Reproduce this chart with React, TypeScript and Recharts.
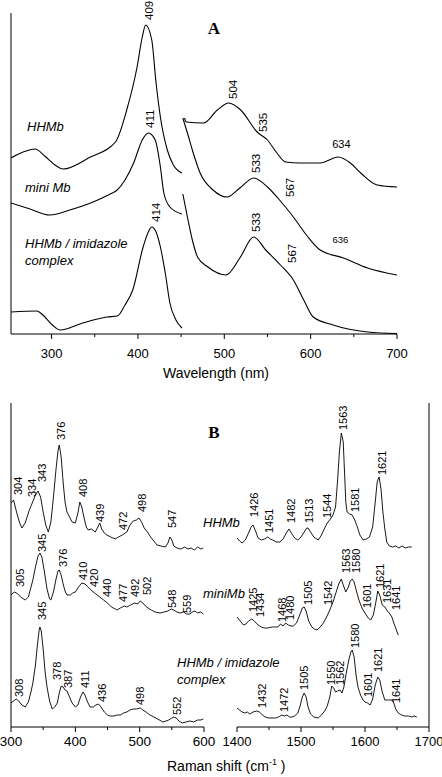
import React from "react";
import { LineChart, Line, XAxis, YAxis, ReferenceDot, ReferenceLine } from "recharts";

const SANS = '"Liberation Sans", Arial, Helvetica, sans-serif';
const SERIF = '"Liberation Serif", "Times New Roman", serif';

// Panel A: absorption spectra, [wavelength nm, offset height]
const hhmbUvLeft = [[253, 176], [267, 182], [281, 185], [292, 178], [304, 169], [313, 165], [345, 177], [374, 192], [387, 224], [399, 267], [405, 297], [409, 309], [416, 294], [421, 251], [426, 217], [434, 184], [441, 169], [451, 161]];
const hhmbUvRight = [[454, 216], [456, 212], [476, 211], [492, 224], [505, 231], [519, 224], [538, 202], [550, 194], [561, 181], [571, 172], [588, 171], [611, 171], [632, 177], [646, 171], [658, 161], [677, 149], [700, 147]];
const miniUvLeft = [[253, 131], [275, 125], [298, 119], [321, 124], [348, 132], [368, 140], [376, 144], [385, 154], [395, 171], [405, 194], [412, 201], [420, 194], [426, 167], [430, 141], [437, 127], [451, 120]];
const miniUvRight = [[452, 216], [458, 199], [463, 184], [472, 161], [487, 144], [503, 137], [518, 146], [534, 156], [550, 147], [563, 135], [580, 117], [596, 98], [611, 84], [638, 76], [666, 66], [700, 59]];
const imidUvLeft = [[253, 22], [283, 23], [290, 19], [301, 9], [310, 4], [336, 11], [364, 17], [376, 18], [385, 29], [394, 44], [406, 87], [412, 102], [416, 107], [421, 102], [426, 87], [432, 59], [437, 31], [444, 14], [451, 6]];
const imidUvRight = [[452, 140], [458, 114], [463, 94], [469, 77], [481, 67], [502, 59], [518, 76], [534, 97], [548, 84], [565, 69], [580, 54], [592, 34], [603, 17], [626, 9], [666, 2], [700, 0.5]];

const uvTicks = [300, 350, 400, 450, 500, 550, 600, 650, 700];

// [x, height, text, rotated, fontSize]
const uvLabels: [number, number, string, boolean, number][] = [
  [413, 314, "409", true, 11.5],
  [414, 206, "411", true, 11.5],
  [421, 112, "414", true, 11.5],
  [510, 235, "504", true, 11.5],
  [545, 202, "535", true, 11.5],
  [635.6, 186, "634", false, 11],
  [537, 161, "533", true, 11.5],
  [576.5, 137, "567", true, 11.5],
  [634.5, 91, "636", false, 9.5],
  [537, 102, "533", true, 11.5],
  [578, 71, "567", true, 11.5],
];

// Panel B: resonance Raman, [shift cm-1, offset height]
const hhmbLow = [[300, 224], [304, 227], [309, 214], [313, 205], [317, 199], [322, 204], [328, 216], [333, 224], [338, 232], [342, 236], [346, 230], [350, 215], [354, 202], [358, 195], [362, 205], [366, 230], [370, 258], [373, 276], [375, 282], [378, 270], [381, 245], [384, 225], [387, 215], [391, 210], [395, 205], [400, 204], [404, 214], [407, 225], [410, 220], [414, 208], [417, 200], [420, 197], [425, 198], [431, 195], [435, 200], [438, 204], [441, 198], [445, 194], [449, 192], [455, 190], [462, 188], [467, 190], [473, 192], [480, 195], [485, 202], [490, 206], [495, 207], [499, 209], [503, 205], [507, 199], [512, 195], [517, 190], [522, 186], [527, 182], [533, 181], [540, 180], [544, 184], [547, 190], [550, 187], [553, 181], [558, 179], [564, 178], [570, 180], [575, 178], [580, 179], [585, 177], [590, 180], [595, 178], [599, 179]];
const miniLow = [[300, 132], [305, 135], [309, 134], [315, 130], [322, 127], [327, 130], [334, 147], [338, 160], [342, 171], [345, 174], [348, 170], [352, 155], [356, 138], [360, 128], [362, 127], [366, 135], [370, 148], [373, 156], [375, 157], [378, 152], [381, 143], [384, 136], [387, 132], [392, 132], [396, 134], [400, 135], [405, 140], [410, 144], [415, 143], [420, 140], [426, 136], [432, 133], [438, 130], [444, 127], [450, 124], [456, 120], [462, 118], [465, 117], [470, 119], [476, 121], [480, 120], [486, 122], [492, 124], [497, 123], [501, 126], [505, 124], [509, 121], [513, 119], [518, 117], [524, 115], [532, 114], [538, 115], [544, 116], [549, 118], [553, 117], [558, 115], [563, 114], [568, 115], [573, 113], [578, 113], [582, 115], [586, 116], [590, 114], [595, 115], [599, 113]];
const imidLow = [[300, 24], [304, 26], [308, 28], [312, 26], [317, 22], [322, 20], [327, 25], [331, 35], [334, 44], [338, 62], [341, 82], [344, 98], [345, 100], [347, 96], [350, 78], [353, 55], [356, 40], [360, 26], [364, 18], [368, 20], [372, 24], [375, 34], [378, 41], [381, 40], [384, 37], [387, 36], [391, 30], [395, 24], [400, 20], [404, 22], [408, 30], [412, 35], [415, 32], [419, 25], [423, 20], [428, 20], [432, 22], [436, 23], [440, 20], [445, 15], [450, 12], [454, 11], [460, 11], [465, 12], [470, 12], [475, 14], [480, 15], [485, 17], [490, 18], [495, 18], [501, 19], [505, 17], [510, 15], [516, 12], [522, 10], [528, 8], [536, 5], [541, 6], [545, 7], [550, 9], [553, 10], [557, 9], [561, 6], [566, 4], [572, 5], [578, 6], [584, 5], [590, 7], [595, 7], [599, 8]];

const hhmbHigh = [[1400, 189], [1404, 186], [1408, 184], [1413, 187], [1418, 194], [1422, 200], [1425, 202], [1429, 196], [1433, 189], [1438, 187], [1443, 188], [1448, 190], [1452, 188], [1456, 187], [1461, 185], [1467, 185], [1472, 188], [1477, 194], [1481, 198], [1485, 194], [1490, 189], [1495, 187], [1500, 190], [1505, 195], [1509, 199], [1511, 199], [1515, 195], [1520, 190], [1527, 187], [1532, 192], [1537, 199], [1541, 204], [1546, 208], [1550, 212], [1554, 220], [1557, 245], [1560, 275], [1563, 294], [1566, 285], [1568, 255], [1570, 225], [1572, 215], [1576, 213], [1580, 212], [1584, 207], [1588, 200], [1592, 192], [1597, 187], [1602, 188], [1607, 190], [1612, 200], [1616, 225], [1619, 245], [1622, 250], [1625, 238], [1628, 215], [1631, 198], [1634, 185], [1638, 181], [1643, 180], [1648, 181], [1653, 179], [1658, 181], [1663, 179], [1668, 180], [1673, 180]];
const miniHigh = [[1400, 110], [1405, 106], [1410, 102], [1414, 103], [1418, 106], [1423, 108], [1427, 106], [1433, 102], [1438, 100], [1443, 99], [1448, 99], [1455, 100], [1460, 100], [1464, 100], [1468, 103], [1472, 101], [1476, 104], [1480, 102], [1484, 101], [1488, 101], [1493, 104], [1498, 112], [1502, 119], [1505, 120], [1508, 116], [1512, 106], [1517, 100], [1521, 98], [1525, 97], [1530, 100], [1535, 104], [1540, 110], [1545, 117], [1550, 125], [1555, 135], [1559, 143], [1563, 148], [1566, 142], [1570, 135], [1574, 140], [1577, 146], [1580, 148], [1583, 145], [1587, 135], [1591, 126], [1596, 118], [1601, 113], [1605, 109], [1609, 107], [1613, 112], [1617, 125], [1620, 136], [1623, 132], [1627, 122], [1631, 120], [1635, 116], [1639, 113], [1642, 110], [1645, 104], [1649, 97], [1652, 92]];
const imidHigh = [[1400, 19], [1404, 17], [1408, 15], [1412, 14], [1416, 15], [1420, 13], [1425, 15], [1431, 16], [1435, 15], [1440, 12], [1444, 10], [1450, 9], [1455, 9], [1460, 9], [1465, 10], [1470, 12], [1474, 11], [1478, 12], [1482, 10], [1486, 10], [1490, 11], [1495, 14], [1499, 22], [1502, 30], [1505, 34], [1508, 30], [1511, 20], [1515, 13], [1520, 10], [1527, 9], [1532, 12], [1537, 16], [1541, 21], [1545, 30], [1548, 41], [1551, 39], [1554, 35], [1557, 36], [1561, 37], [1564, 34], [1567, 40], [1571, 55], [1575, 68], [1578, 75], [1580, 77], [1583, 70], [1586, 52], [1589, 40], [1593, 32], [1597, 27], [1600, 25], [1604, 24], [1608, 22], [1612, 28], [1616, 42], [1620, 50], [1623, 47], [1627, 35], [1631, 27], [1635, 27], [1639, 27], [1642, 27], [1645, 24], [1648, 18], [1652, 14], [1657, 12], [1662, 11], [1668, 11], [1673, 10], [1677, 11], [1681, 10]];

const lowTicks = [300, 350, 400, 450, 500, 550, 600];
const highTicks = [1400, 1450, 1500, 1550, 1600, 1650, 1700];

const lowLabels: [number, number, string][] = [
  [311, 232, "304"], [333, 230, "334"], [348, 245, "343"], [378, 287, "376"], [412, 230, "408"],
  [438, 205, "439"], [474, 197, "472"], [504, 215, "498"], [550, 199, "547"],
  [315, 140, "305"], [348, 175, "345"], [381, 160, "376"], [412, 147, "410"], [429, 140, "420"],
  [449, 130, "440"], [474, 125, "477"], [493, 130, "492"], [511, 132, "502"], [550, 119, "548"], [574, 114, "559"],
  [348, 107, "345"], [312, 30, "308"], [372, 47, "378"], [389, 39, "387"], [415, 39, "411"],
  [441, 25, "436"], [501, 22, "498"], [558, 12, "552"],
];
const highLabels: [number, number, string][] = [
  [1566, 297, "1563"], [1627, 252, "1621"], [1427, 210, "1426"], [1450, 194, "1451"], [1484, 204, "1482"],
  [1512, 204, "1513"], [1541, 209, "1544"], [1584, 215, "1581"],
  [1425, 115, "1425"], [1436, 110, "1434"], [1470, 105, "1468"], [1483, 107, "1480"], [1511, 122, "1505"],
  [1542, 122, "1542"], [1570, 154, "1563"], [1586, 154, "1580"], [1603, 119, "1601"], [1623, 139, "1621"],
  [1634, 124, "1631"], [1648, 117, "1641"],
  [1439, 19, "1432"], [1473, 15, "1472"], [1505, 37, "1505"], [1547, 42, "1550"], [1561, 42, "1562"],
  [1584, 79, "1580"], [1605, 30, "1601"], [1620, 55, "1621"], [1648, 24, "1641"],
];

const toPts = (arr: number[][]) => arr.map(([x, v]) => ({ x, v }));

const makeTick = (fontSize: number, labelDy: number) => (props: any) => {
  const { x, y, payload } = props;
  const major = payload.value % 100 === 0;
  return (
    <g>
      <line x1={x} x2={x} y1={y} y2={y + (major ? 5 : 3)} stroke="#000" strokeWidth={1} />
      {major && (
        <text x={x} y={y + labelDy} textAnchor="middle" fontSize={fontSize} fontFamily={SANS} fill="#000">
          {payload.value}
        </text>
      )}
    </g>
  );
};

const annShape = (t: string, rot: boolean, fs: number) => (p: any) => {
  const { cx, cy } = p;
  if (rot) {
    return (
      <text x={cx} y={cy} dy="0.35em" transform={`rotate(-90 ${cx} ${cy})`} textAnchor="start" fontSize={fs} fontFamily={SANS} fill="#000">
        {t}
      </text>
    );
  }
  return (
    <text x={cx} y={cy} textAnchor="middle" fontSize={fs} fontFamily={SANS} fill="#000">
      {t}
    </text>
  );
};

const spec = (data: number[][], key: string, smooth: boolean) => (
  <Line
    key={key}
    data={toPts(data)}
    dataKey="v"
    type={smooth ? "monotone" : "linear"}
    stroke="#000"
    strokeWidth={smooth ? 1.1 : 0.9}
    dot={false}
    activeDot={false}
    isAnimationActive={false}
  />
);

export default function App() {
  return (
    <div style={{ position: "absolute", left: 0, top: 0, width: 442, height: 777, background: "#fff", overflow: "hidden" }}>
      {/* Panel A */}
      <div style={{ position: "absolute", left: 0, top: 0 }}>
        <LineChart width={442} height={364} margin={{ top: 13, right: 45, bottom: 0, left: 11 }}>
          <XAxis
            type="number"
            dataKey="x"
            domain={[253, 700]}
            ticks={uvTicks}
            interval={0}
            allowDataOverflow
            height={30}
            tickSize={0}
            tickMargin={0}
            tickLine={false}
            axisLine={{ stroke: "#000" }}
            tick={makeTick(13, 24)}
          />
          <YAxis type="number" domain={[0, 321]} hide allowDataOverflow />
          <ReferenceLine x={253} stroke="#000" strokeWidth={1} />
          {spec(hhmbUvLeft, "a1", true)}
          {spec(hhmbUvRight, "a2", true)}
          {spec(miniUvLeft, "a3", true)}
          {spec(miniUvRight, "a4", true)}
          {spec(imidUvLeft, "a5", true)}
          {spec(imidUvRight, "a6", true)}
          {uvLabels.map(([x, y, t, rot, fs], i) => (
            <ReferenceDot key={"ua" + i} x={x} y={y} r={1} shape={annShape(t, rot, fs)} />
          ))}
        </LineChart>
      </div>

      {/* Panel B, low frequency */}
      <div style={{ position: "absolute", left: 0, top: 390 }}>
        <LineChart width={225} height={367} margin={{ top: 13, right: 21, bottom: 0, left: 11 }}>
          <XAxis
            type="number"
            dataKey="x"
            domain={[300, 600]}
            ticks={lowTicks}
            interval={0}
            allowDataOverflow
            height={30}
            tickSize={0}
            tickMargin={0}
            tickLine={false}
            axisLine={{ stroke: "#000" }}
            tick={makeTick(13.5, 19)}
          />
          <YAxis type="number" domain={[0, 324]} hide allowDataOverflow />
          <ReferenceLine x={300} stroke="#000" strokeWidth={1} />
          {spec(hhmbLow, "b1", false)}
          {spec(miniLow, "b2", false)}
          {spec(imidLow, "b3", false)}
          {lowLabels.map(([x, y, t], i) => (
            <ReferenceDot key={"lb" + i} x={x} y={y} r={1} shape={annShape(t, true, 11)} />
          ))}
        </LineChart>
      </div>

      {/* Panel B, high frequency */}
      <div style={{ position: "absolute", left: 215, top: 390 }}>
        <LineChart width={227} height={367} margin={{ top: 13, right: 13, bottom: 0, left: 22 }}>
          <XAxis
            type="number"
            dataKey="x"
            domain={[1400, 1700]}
            ticks={highTicks}
            interval={0}
            allowDataOverflow
            height={30}
            tickSize={0}
            tickMargin={0}
            tickLine={false}
            axisLine={{ stroke: "#000" }}
            tick={makeTick(13, 19)}
          />
          <YAxis type="number" domain={[0, 324]} hide allowDataOverflow />
          <ReferenceLine x={1700} stroke="#000" strokeWidth={1} />
          {spec(hhmbHigh, "c1", false)}
          {spec(miniHigh, "c2", false)}
          {spec(imidHigh, "c3", false)}
          {highLabels.map(([x, y, t], i) => (
            <ReferenceDot key={"hb" + i} x={x} y={y} r={1} shape={annShape(t, true, 11)} />
          ))}
        </LineChart>
      </div>

      {/* titles and sample names */}
      <svg width={442} height={777} style={{ position: "absolute", left: 0, top: 0, pointerEvents: "none" }}>
        <text x={214} y={34} textAnchor="middle" fontFamily={SERIF} fontWeight="bold" fontSize={17}>A</text>
        <text x={214} y={438} textAnchor="middle" fontFamily={SERIF} fontWeight="bold" fontSize={17}>B</text>
        <g fontFamily={SANS} fontStyle="italic" fontSize={13}>
          <text x={27} y={131}>HHMb</text>
          <text x={25} y={192}>mini Mb</text>
          <text x={25} y={248}>HHMb / imidazole</text>
          <text x={25} y={265}>complex</text>
          <text x={203} y={527}>HHMb</text>
          <text x={203} y={598}>miniMb</text>
          <text x={177} y={667}>HHMb / imidazole</text>
          <text x={177} y={684}>complex</text>
        </g>
        <text x={216} y={378} textAnchor="middle" fontFamily={SANS} fontSize={14}>Wavelength (nm)</text>
        <text x={167} y={771} fontFamily={SANS} fontSize={14}>
          Raman shift (cm<tspan dy={-6} fontSize={9}>-1</tspan><tspan dy={6}> )</tspan>
        </text>
      </svg>
    </div>
  );
}
